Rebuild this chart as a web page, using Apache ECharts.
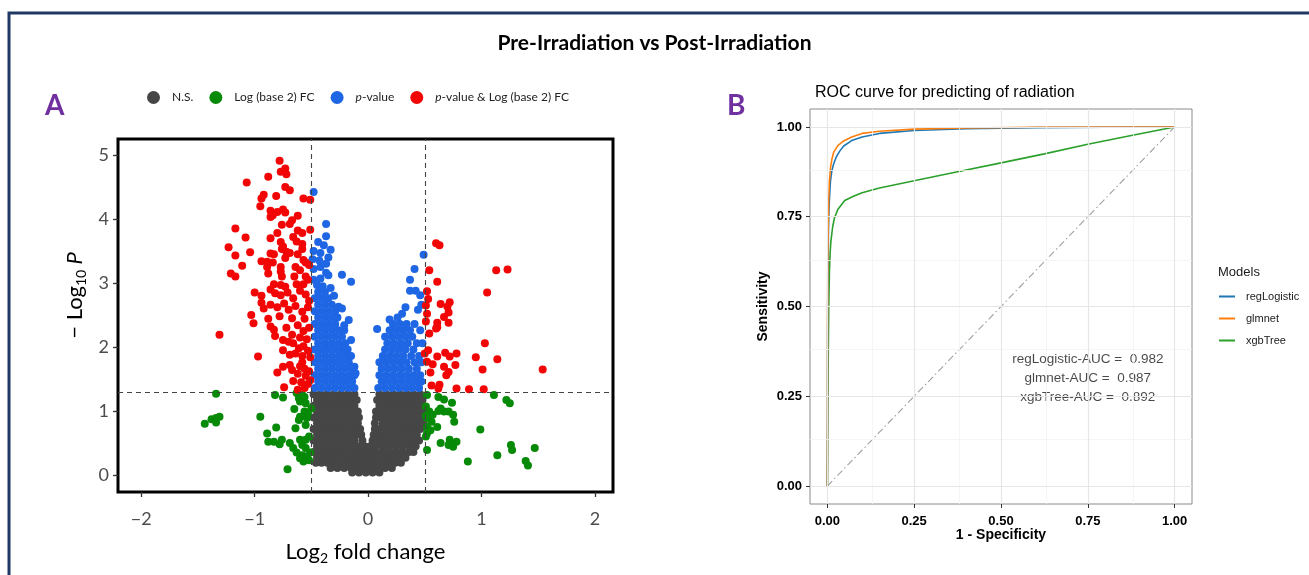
<!DOCTYPE html>
<html>
<head>
<meta charset="utf-8">
<script src="https://cdn.jsdelivr.net/npm/echarts@6/dist/echarts.min.js"></script>
<style>
html,body{margin:0;padding:0;background:#fff;}
#c{width:1309px;height:575px;}
</style>
</head>
<body>
<div id="c"></div>
<script>
// ---------- Panel A: volcano plot data (log2FC, -log10 P) ----------
const FC_CUT = 0.5;
const P_CUT = 1.301;
const volcanoNames = ['N.S.', 'Log (base 2) FC', 'p-value', 'p-value & Log (base 2) FC'];
const volcanoXTicks = [-2, -1, 0, 1, 2];
const volcanoYTicks = [0, 1, 2, 3, 4, 5];

// not significant points, by row: [y, [x...]]
const nsRows = [
  [1.26, [-0.48,-0.42,-0.36,-0.30,-0.24,-0.18,-0.12, 0.10,0.16,0.22,0.28,0.34,0.40,0.46]],
  [1.17, [-0.45,-0.39,-0.33,-0.27,-0.21,-0.15,-0.10, 0.08,0.13,0.19,0.25,0.31,0.37,0.43,0.48]],
  [1.08, [-0.48,-0.42,-0.36,-0.30,-0.24,-0.18,-0.12, 0.10,0.16,0.22,0.28,0.34,0.40,0.46]],
  [0.99, [-0.45,-0.39,-0.33,-0.27,-0.21,-0.15,-0.09, 0.07,0.13,0.19,0.25,0.31,0.37,0.43,0.49]],
  [0.90, [-0.48,-0.42,-0.36,-0.30,-0.24,-0.18,-0.12,-0.08, 0.07,0.11,0.16,0.22,0.28,0.34,0.40,0.46]],
  [0.81, [-0.45,-0.39,-0.33,-0.27,-0.21,-0.15,-0.09, 0.06,0.13,0.19,0.25,0.31,0.37,0.43,0.49]],
  [0.72, [-0.48,-0.42,-0.36,-0.30,-0.24,-0.18,-0.12,-0.07, 0.06,0.10,0.16,0.22,0.28,0.34,0.40,0.46]],
  [0.63, [-0.45,-0.39,-0.33,-0.27,-0.21,-0.15,-0.10,-0.06, 0.05,0.09,0.13,0.19,0.25,0.31,0.37,0.43]],
  [0.54, [-0.48,-0.42,-0.36,-0.30,-0.24,-0.18,-0.12,-0.05, 0.04,0.08,0.12,0.16,0.22,0.28,0.34,0.40,0.45]],
  [0.45, [-0.45,-0.39,-0.33,-0.27,-0.21,-0.15,-0.09,-0.03, 0.02,0.07,0.13,0.19,0.25,0.31,0.37,0.42]],
  [0.36, [-0.48,-0.42,-0.36,-0.30,-0.24,-0.18,-0.12,-0.06,0.00,0.06,0.12,0.18,0.24,0.30,0.36,0.40]],
  [0.27, [-0.45,-0.39,-0.33,-0.27,-0.21,-0.15,-0.09,-0.03,0.03,0.09,0.15,0.21,0.27,0.33]],
  [0.19, [-0.46,-0.41,-0.36,-0.30,-0.24,-0.18,-0.12,-0.06,0.00,0.06,0.12,0.18,0.24,0.29]],
  [0.11, [-0.33,-0.27,-0.21,-0.15,-0.09,-0.03,0.03,0.09,0.15,0.21]],
  [0.04, [-0.14,-0.08,-0.02,0.04,0.10]]
];

// fold-change only (green)
const fcPoints = [
  [-1.34,1.27],[-1.44,0.80],[-1.38,0.87],[-1.34,0.89],[-1.31,0.91],[-1.34,0.82],[-0.95,0.91],[-0.82,1.25],[-0.75,1.21],
  [-0.63,1.28],[-0.58,1.25],[-0.61,1.20],[-0.56,1.22],[-0.60,1.15],[-0.55,1.12],[-0.65,1.03],[-0.56,0.99],[-0.60,0.91],
  [-0.61,0.86],[-0.54,0.89],[-0.55,0.78],[-0.81,0.74],[-0.89,0.65],[-0.88,0.52],[-0.83,0.52],[-0.78,0.48],[-0.76,0.55],
  [-0.69,0.50],[-0.66,0.42],[-0.60,0.55],[-0.58,0.47],[-0.55,0.42],[-0.63,0.35],[-0.58,0.31],[-0.54,0.29],[-0.57,0.21],
  [-0.52,0.23],[-0.60,0.26],[-0.71,0.09],[-0.50,1.04],[-0.53,0.96],[-0.64,0.73],[-0.52,0.60],[-0.51,0.35],[-0.55,0.55],
  [0.52,1.25],[0.62,1.22],[0.67,1.18],[0.74,1.13],[1.11,1.25],[1.22,1.17],[1.25,1.12],[0.51,1.07],[0.54,0.99],[0.57,0.94],
  [0.52,0.89],[0.56,0.83],[0.52,0.75],[0.61,0.75],[0.64,1.04],[0.67,0.99],[0.71,0.99],[0.75,0.94],[0.76,0.83],[0.62,1.00],
  [0.99,0.71],[0.52,0.65],[0.51,0.60],[0.64,0.50],[0.72,0.55],[0.73,0.50],[0.75,0.44],[0.78,0.52],[0.71,0.47],[0.52,0.39],
  [0.88,0.21],[1.14,0.31],[1.26,0.47],[1.27,0.39],[1.47,0.42],[1.39,0.22],[1.41,0.15],[0.51,0.92],[0.55,0.70]
];

// p-value only (blue), dense rows [y, [x...]] plus scattered points
const pRows = [
  [1.36, [-0.47,-0.41,-0.35,-0.29,-0.23,-0.17,-0.12, 0.09,0.15,0.21,0.27,0.33,0.39,0.45]],
  [1.46, [-0.44,-0.38,-0.32,-0.26,-0.20,-0.14, 0.12,0.18,0.24,0.30,0.36,0.42,0.47]],
  [1.56, [-0.47,-0.41,-0.35,-0.29,-0.23,-0.17,-0.12, 0.10,0.16,0.22,0.28,0.34,0.40,0.46]],
  [1.66, [-0.44,-0.38,-0.32,-0.26,-0.20,-0.14, 0.12,0.18,0.24,0.30,0.36,0.43]],
  [1.76, [-0.47,-0.41,-0.35,-0.29,-0.23,-0.17, 0.10,0.16,0.22,0.28,0.34,0.41,0.47]],
  [1.86, [-0.44,-0.38,-0.32,-0.26,-0.20,-0.15, 0.13,0.19,0.25,0.31,0.38,0.45]],
  [1.96, [-0.47,-0.41,-0.35,-0.29,-0.23,-0.18, 0.15,0.21,0.27,0.33,0.40]],
  [2.06, [-0.44,-0.38,-0.32,-0.26,-0.20, 0.17,0.23,0.29,0.35,0.43,0.48]],
  [2.16, [-0.47,-0.41,-0.35,-0.29,-0.23, 0.15,0.21,0.27,0.33,0.39]],
  [2.26, [-0.44,-0.38,-0.32,-0.26,-0.21, 0.19,0.25,0.31,0.37,0.46]],
  [2.36, [-0.47,-0.41,-0.35,-0.29, 0.22,0.28,0.34,0.41]],
  [2.46, [-0.44,-0.38,-0.32,-0.27]],
  [2.56, [-0.47,-0.41,-0.35,-0.29]],
  [2.66, [-0.44,-0.38,-0.32]],
  [2.76, [-0.47,-0.41,-0.35]],
  [2.86, [-0.44,-0.38]]
];
const pPoints = [
  [-0.48,4.42],[-0.37,3.92],[-0.37,3.73],[-0.44,3.64],[-0.39,3.59],[-0.33,3.52],[-0.48,3.50],[-0.42,3.47],[-0.35,3.40],
  [-0.49,3.37],[-0.43,3.35],[-0.37,3.30],[-0.42,3.25],[-0.48,3.22],[-0.37,3.16],[-0.35,3.12],[-0.23,3.13],[-0.15,3.02],
  [-0.48,3.05],[-0.42,3.07],[-0.45,2.97],[-0.40,2.95],[-0.26,2.63],[-0.23,2.60],[-0.17,2.42],[-0.21,2.34],[-0.15,2.11],
  [-0.21,2.00],[-0.11,1.59],[-0.12,1.69],[-0.33,2.92],[-0.30,2.80],
  [0.08,2.28],[0.19,2.43],[0.26,2.46],[0.30,2.52],[0.44,2.58],[0.47,2.66],[0.46,2.81],[0.37,2.88],[0.42,2.88],
  [0.37,3.05],[0.41,3.22],[0.49,3.44],[0.33,2.62]
];

// both p-value and fold change (red)
const bothPoints = [
  [-0.78,4.91],[-0.73,4.79],[-0.77,4.74],[-0.72,4.70],[-0.88,4.66],[-1.07,4.57],[-0.73,4.50],[-0.69,4.45],
  [-0.92,4.38],[-0.94,4.32],[-0.81,4.36],[-0.57,4.32],[-0.51,4.30],[-0.95,4.20],
  [-0.86,4.13],[-0.80,4.11],[-0.75,4.15],[-0.73,4.10],[-0.62,4.05],[-0.67,3.98],[-0.69,3.92],[-0.86,4.03],[-0.76,3.91],[-0.84,4.06],
  [-1.17,3.85],[-0.80,3.78],[-0.62,3.82],[-0.58,3.78],[-0.51,3.83],[-1.08,3.71],[-0.86,3.70],[-0.77,3.64],[-0.63,3.65],[-0.58,3.61],[-0.66,3.72],
  [-0.75,3.57],[-0.76,3.53],[-0.72,3.49],[-1.23,3.56],[-1.04,3.48],[-1.17,3.43],[-0.86,3.46],[-0.83,3.45],[-0.69,3.47],[-0.62,3.45],
  [-0.58,3.53],[-0.73,3.39],[-0.94,3.34],[-0.89,3.33],[-0.84,3.32],[-0.57,3.36],[-0.55,3.32],
  [-1.11,3.27],[-0.52,3.28],[-0.77,3.25],[-0.89,3.25],[-0.64,3.25],[-1.21,3.15],[-1.17,3.10],[-0.88,3.15],[-0.77,3.18],[-0.76,3.10],
  [-0.65,3.10],[-0.55,3.10],[-0.60,3.20],[-0.53,3.05],
  [-0.83,2.98],[-0.77,2.97],[-0.73,2.94],[-0.86,2.90],[-0.82,2.84],[-0.77,2.81],[-0.71,2.85],[-0.63,2.98],[-0.57,2.98],[-0.94,2.80],
  [-0.66,2.76],[-0.55,2.82],[-0.60,2.88],[-1.00,2.85],[-0.52,2.72],
  [-0.94,2.69],[-0.92,2.60],[-0.86,2.66],[-1.03,2.50],[-0.80,2.62],[-0.74,2.68],[-0.70,2.58],[-0.64,2.64],[-0.58,2.55],[-0.53,2.62],
  [-0.78,2.48],[-0.67,2.45],[-0.56,2.44],[-0.88,2.44],
  [-1.01,2.37],[-0.86,2.32],[-0.83,2.27],[-0.82,2.17],[-0.75,2.11],[-0.67,2.19],[-1.31,2.19],[-0.72,2.30],[-0.62,2.34],[-0.57,2.25],
  [-0.52,2.30],[-0.60,2.15],[-0.54,2.12],
  [-0.70,2.08],[-0.66,2.06],[-0.75,1.95],[-0.97,1.85],[-0.61,1.98],[-0.57,2.01],[-0.53,1.94],[-0.64,1.90],[-0.58,1.86],[-0.51,1.84],[-0.69,1.88],
  [-0.75,1.69],[-0.69,1.72],[-0.67,1.64],[-0.60,1.70],[-0.56,1.66],[-0.52,1.62],[-0.62,1.58],[-0.55,1.55],[-0.58,1.76],[-0.80,1.60],
  [-0.66,1.47],[-0.74,1.37],[-0.59,1.45],[-0.53,1.42],[-0.56,1.36],[-0.62,1.33],[-0.51,1.48],
  [0.60,3.62],[0.63,3.59],[0.54,3.20],[0.61,3.02],[1.13,3.20],[1.23,3.21],[1.05,2.85],[0.52,2.87],[0.53,2.75],[0.51,2.65],
  [0.64,2.67],[0.72,2.70],[0.52,2.52],[0.67,2.47],[0.71,2.54],[0.71,2.38],[0.61,2.31],[0.61,2.38],[0.54,2.21],[1.03,2.06],
  [0.50,1.90],[0.61,1.85],[0.68,1.91],[0.72,1.85],[0.78,1.90],[0.95,1.84],[1.14,1.81],[0.52,1.77],[0.57,1.73],[0.67,1.69],
  [0.77,1.72],[0.71,1.61],[0.69,1.56],[1.01,1.65],[1.54,1.65],[0.56,1.40],[0.63,1.41],[0.62,1.35],[0.78,1.35],[0.89,1.34],
  [1.02,1.34],[0.51,2.40],[0.60,2.29],[0.70,2.63],[0.55,1.60],[0.53,1.95]
];

// ---------- Panel B: ROC curves (1 - specificity, sensitivity) ----------
const models = ['regLogistic', 'glmnet', 'xgbTree'];
const aucValues = [0.982, 0.987, 0.892];
const rocTicks = [0, 0.25, 0.5, 0.75, 1];
const rocMinor = [0.125, 0.375, 0.625, 0.875];
const rocRegLogistic = [
  [0,0],[0.0005,0.30],[0.001,0.50],[0.002,0.62],[0.003,0.70],[0.004,0.75],[0.006,0.80],[0.009,0.85],[0.013,0.878],
  [0.018,0.897],[0.025,0.915],[0.035,0.932],[0.047,0.947],[0.07,0.962],[0.1,0.972],[0.15,0.982],[0.25,0.990],
  [0.4,0.995],[0.6,0.998],[0.8,0.999],[1,1]
];
const rocGlmnet = [
  [0,0],[0.0005,0.40],[0.001,0.58],[0.002,0.70],[0.004,0.80],[0.006,0.85],[0.009,0.887],[0.013,0.91],[0.018,0.929],
  [0.03,0.948],[0.047,0.961],[0.07,0.972],[0.1,0.982],[0.15,0.988],[0.25,0.994],[0.4,0.997],[0.6,0.999],[1,1]
];
const rocXgbTree = [
  [0,0],[0.002,0.30],[0.004,0.50],[0.006,0.60],[0.008,0.65],[0.01,0.68],[0.015,0.72],[0.02,0.745],[0.03,0.77],
  [0.05,0.795],[0.075,0.807],[0.1,0.817],[0.15,0.83],[0.25,0.85],[0.375,0.875],[0.5,0.90],[0.625,0.925],
  [0.75,0.952],[0.875,0.976],[1,1]
];
const rocChance = [[0,0],[1,1]];
const aucLabelPos = [0.75, 0.30];

// ---------- build ----------
const fromRows = rows => rows.flatMap(([y, xs]) => xs.map(x => [x, y]));
const nsData = fromRows(nsRows);
const pData = fromRows(pRows).concat(pPoints);

const chart = echarts.init(document.getElementById('c'));
const FA = 'Lato';
const FB = 'Liberation Sans';
const purple = '#7030A0';
const volColors = ['#464646', '#078a07', '#1e66e3', '#f20505'];
const rocColors = ['#1f77b4', '#ff7f0e', '#2ca02c'];

const aucText = models.map((m, i) => m + '-AUC =  ' + aucValues[i].toFixed(3)).join('\n');

const option = {
  animation: false,
  backgroundColor: '#fff',
  title: [
    {text: 'Pre-Irradiation vs Post-Irradiation', left: 'center', top: 28,
     textStyle: {fontFamily: FA, fontWeight: 'bold', fontSize: 21, color: '#000'}},
    {text: 'A', left: 40, top: 87, textStyle: {fontFamily: FA, fontWeight: 'bold', fontSize: 28, color: purple}},
    {text: 'B', left: 722, top: 87, textStyle: {fontFamily: FA, fontWeight: 'bold', fontSize: 28, color: purple}},
    {text: 'ROC curve for predicting of radiation', left: 810, top: 80,
     textStyle: {fontFamily: FB, fontWeight: 'normal', fontSize: 16, color: '#000'}},
    {text: 'Models', left: 1213, top: 261,
     textStyle: {fontFamily: FB, fontWeight: 'normal', fontSize: 13, color: '#1a1a1a'}}
  ],
  legend: [
    {data: volcanoNames, left: 142, top: 86, icon: 'circle', itemWidth: 13, itemHeight: 13, itemGap: 16,
     selectedMode: false,
     formatter: n => n.replace('p-value', '{i|p}-value'),
     textStyle: {fontFamily: FA, fontSize: 12, color: '#222', padding: [0, 0, 0, 7],
       rich: {i: {fontFamily: FA, fontSize: 12, fontStyle: 'italic', color: '#222'}}}},
    {data: models, orient: 'vertical', left: 1214, top: 286, icon: 'rect', itemWidth: 16, itemHeight: 2,
     itemGap: 11, selectedMode: false,
     textStyle: {fontFamily: FB, fontSize: 11, color: '#1a1a1a', padding: [0, 0, 0, 6]}}
  ],
  graphic: [
    {type: 'polyline', silent: true, z: 100,
     shape: {points: [[9, 575], [9, 13], [1309, 13]]},
     style: {stroke: '#1f3864', lineWidth: 3, fill: null}}
  ],
  grid: [
    {left: 118, top: 139, width: 495, height: 353, show: true, borderColor: '#000', borderWidth: 3, backgroundColor: '#fff'},
    {left: 810, top: 109, width: 382, height: 395, show: true, borderColor: '#8a8a8a', borderWidth: 1, backgroundColor: '#fff'}
  ],
  xAxis: [
    {gridIndex: 0, type: 'value', min: -2.205, max: 2.16,
     axisLine: {show: false, onZero: false}, splitLine: {show: false},
     axisTick: {customValues: volcanoXTicks, length: 5, lineStyle: {color: '#333', width: 1.3}},
     axisLabel: {customValues: volcanoXTicks, margin: 18, fontFamily: FA, fontSize: 18, color: '#4d4d4d',
       formatter: v => (v < 0 ? '\u2212' + Math.abs(v) : String(v))},
     name: '{a|Log}{s|2}{a| fold change}', nameLocation: 'middle', nameGap: 47,
     nameTextStyle: {fontFamily: FA, fontSize: 22, color: '#000',
       rich: {a: {fontFamily: FA, fontSize: 22, color: '#000'},
              s: {fontFamily: FA, fontSize: 14, color: '#000', verticalAlign: 'bottom', padding: [12, 0, 0, 0]}}}},
    {gridIndex: 1, type: 'value', min: -0.05, max: 1.05,
     axisLine: {show: false, onZero: false}, splitLine: {show: false},
     axisTick: {customValues: rocTicks, length: 4, lineStyle: {color: '#333'}},
     axisLabel: {customValues: rocTicks, margin: 11, fontFamily: FB, fontSize: 13, fontWeight: 'bold', color: '#000',
       formatter: v => v.toFixed(2)},
     name: '1 - Specificity', nameLocation: 'middle', nameGap: 24, nameMoveOverlap: false,
     nameTextStyle: {fontFamily: FB, fontSize: 14, fontWeight: 'bold', color: '#000'}}
  ],
  yAxis: [
    {gridIndex: 0, type: 'value', min: -0.266, max: 5.25,
     axisLine: {show: false, onZero: false}, splitLine: {show: false},
     axisTick: {customValues: volcanoYTicks, length: 5, lineStyle: {color: '#333', width: 1.3}},
     axisLabel: {customValues: volcanoYTicks, margin: 9, fontFamily: FA, fontSize: 18, color: '#4d4d4d'},
     name: '{a|\u2212 Log}{s|10}{i| P}', nameLocation: 'middle', nameGap: 30, nameRotate: 90,
     nameTextStyle: {fontFamily: FA, fontSize: 22, color: '#000', padding: [0, 0, 0, 40],
       rich: {a: {fontFamily: FA, fontSize: 22, color: '#000'},
              s: {fontFamily: FA, fontSize: 14, color: '#000', verticalAlign: 'bottom', padding: [12, 0, 0, 0]},
              i: {fontFamily: FA, fontSize: 22, fontStyle: 'italic', color: '#000'}}}},
    {gridIndex: 1, type: 'value', min: -0.05, max: 1.05,
     axisLine: {show: false, onZero: false}, splitLine: {show: false},
     axisTick: {customValues: rocTicks, length: 4, lineStyle: {color: '#333'}},
     axisLabel: {customValues: rocTicks, margin: 8, fontFamily: FB, fontSize: 13, fontWeight: 'bold', color: '#000',
       formatter: v => v.toFixed(2)},
     name: 'Sensitivity', nameLocation: 'middle', nameGap: 40, nameRotate: 90,
     nameTextStyle: {fontFamily: FB, fontSize: 14, fontWeight: 'bold', color: '#000'}}
  ],
  series: [
    {name: volcanoNames[0], type: 'scatter', xAxisIndex: 0, yAxisIndex: 0, data: nsData, symbolSize: 8,
     itemStyle: {color: volColors[0], opacity: 1}, z: 2, silent: true},
    {name: volcanoNames[1], type: 'scatter', xAxisIndex: 0, yAxisIndex: 0, data: fcPoints, symbolSize: 8,
     itemStyle: {color: volColors[1], opacity: 1}, z: 2, silent: true},
    {name: volcanoNames[2], type: 'scatter', xAxisIndex: 0, yAxisIndex: 0, data: pData, symbolSize: 8,
     itemStyle: {color: volColors[2], opacity: 1}, z: 2, silent: true},
    {name: volcanoNames[3], type: 'scatter', xAxisIndex: 0, yAxisIndex: 0, data: bothPoints, symbolSize: 8,
     itemStyle: {color: volColors[3], opacity: 1}, z: 2, silent: true},
    {name: 'cutoffs', type: 'line', xAxisIndex: 0, yAxisIndex: 0, data: [[0, 0]], showSymbol: false, symbol: 'none',
     lineStyle: {opacity: 0}, z: 10, silent: true,
     markLine: {silent: true, symbol: 'none', label: {show: false}, animation: false,
       lineStyle: {color: '#444', width: 1.1, type: [5, 4]},
       data: [{xAxis: -FC_CUT}, {xAxis: FC_CUT}, {yAxis: P_CUT}]}},
    {name: 'gridB', type: 'line', xAxisIndex: 1, yAxisIndex: 1, data: [[0, 0]], showSymbol: false, symbol: 'none',
     lineStyle: {opacity: 0}, z: 1, silent: true,
     markLine: {silent: true, symbol: 'none', label: {show: false}, animation: false,
       data: rocMinor.map(v => ({xAxis: v, lineStyle: {color: '#f2f2f2', width: 0.8, type: 'solid'}}))
         .concat(rocMinor.map(v => ({yAxis: v, lineStyle: {color: '#f2f2f2', width: 0.8, type: 'solid'}})))
         .concat(rocTicks.map(v => ({xAxis: v, lineStyle: {color: '#e6e6e6', width: 1.2, type: 'solid'}})))
         .concat(rocTicks.map(v => ({yAxis: v, lineStyle: {color: '#e6e6e6', width: 1.2, type: 'solid'}})))}},
    {name: 'chance', type: 'line', xAxisIndex: 1, yAxisIndex: 1, data: rocChance, showSymbol: false, symbol: 'none',
     lineStyle: {color: '#a0a0a0', width: 1.1, type: [7, 3, 1.5, 3]}, z: 2, silent: true},
    {name: models[2], type: 'line', xAxisIndex: 1, yAxisIndex: 1, data: rocXgbTree, showSymbol: false, symbol: 'none',
     lineStyle: {color: rocColors[2], width: 1.6}, itemStyle: {color: rocColors[2]}, z: 3, silent: true},
    {name: models[0], type: 'line', xAxisIndex: 1, yAxisIndex: 1, data: rocRegLogistic, showSymbol: false, symbol: 'none',
     lineStyle: {color: rocColors[0], width: 1.6}, itemStyle: {color: rocColors[0]}, z: 3, silent: true},
    {name: models[1], type: 'line', xAxisIndex: 1, yAxisIndex: 1, data: rocGlmnet, showSymbol: false, symbol: 'none',
     lineStyle: {color: rocColors[1], width: 1.6}, itemStyle: {color: rocColors[1]}, z: 3, silent: true},
    {name: 'auc', type: 'scatter', xAxisIndex: 1, yAxisIndex: 1, data: [aucLabelPos], symbolSize: 0, z: 4, silent: true,
     label: {show: true, position: [0, 0], formatter: aucText, align: 'center', verticalAlign: 'middle',
       fontFamily: FB, fontSize: 13.5, lineHeight: 19, color: '#1a1a1a',
       textBorderWidth: 0, textBorderColor: 'rgba(0,0,0,0)'}}
  ]
};
chart.setOption(option);
</script>
</body>
</html>
